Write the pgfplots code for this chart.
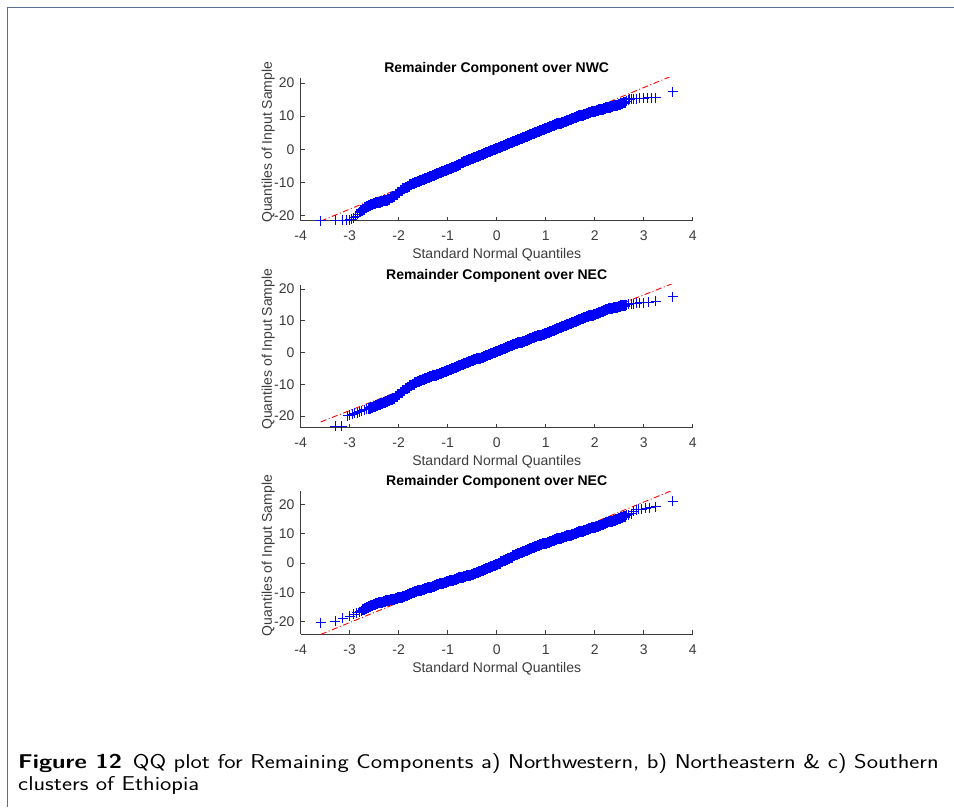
\documentclass[border=0pt]{standalone}
\usepackage{fontspec}
\setmainfont{Liberation Sans}
\usepackage{pgfplots}
\usepackage{pgfplotstable}
\pgfplotsset{compat=1.18}
\definecolor{axgray}{RGB}{60,60,60}
\definecolor{framecol}{RGB}{88,112,146}
\definecolor{qqblue}{RGB}{0,0,255}

\pgfplotstableread{
x y
-3.59 -21.5
-3.28 -21.4
-3.15 -21.4
-3.06 -21.3
-3.00 -21.2
-2.96 -21.0
-2.92 -20.6
-2.88 -20.1
-2.84 -19.6
-2.80 -19.0
-2.76 -18.5
-2.72 -18.0
-2.68 -17.6
-2.64 -17.2
-2.60 -16.9
-2.55 -16.6
-2.50 -16.3
-2.45 -16.1
-2.40 -15.9
-2.35 -15.7
-2.30 -15.5
-2.25 -15.3
-2.20 -15.0
-2.15 -14.6
-2.10 -14.1
-2.05 -13.5
-2.00 -12.9
-1.95 -12.4
-1.90 -11.9
-1.85 -11.5
-1.80 -11.1
-1.75 -10.7
-1.70 -10.4
-1.65 -10.0
-1.60 -9.7
-1.55 -9.4
-1.50 -9.0
-1.45 -8.7
-1.40 -8.4
-1.35 -8.1
-1.30 -7.8
-1.25 -7.5
-1.20 -7.2
-1.15 -6.9
-1.10 -6.6
-1.05 -6.3
-1.00 -6.0
-0.95 -5.7
-0.90 -5.4
-0.85 -5.1
-0.80 -4.8
-0.75 -4.5
-0.70 -4.1
-0.65 -3.8
-0.60 -3.5
-0.55 -3.2
-0.50 -2.9
-0.45 -2.6
-0.40 -2.3
-0.35 -2.0
-0.30 -1.7
-0.25 -1.4
-0.20 -1.1
-0.15 -0.8
-0.10 -0.5
-0.05 -0.2
0.00 0.2
0.05 0.5
0.10 0.8
0.15 1.1
0.20 1.4
0.25 1.7
0.30 2.0
0.35 2.3
0.40 2.6
0.45 2.9
0.50 3.2
0.55 3.5
0.60 3.8
0.65 4.1
0.70 4.4
0.75 4.7
0.80 5.0
0.85 5.3
0.90 5.6
0.95 5.9
1.00 6.2
1.05 6.5
1.10 6.8
1.15 7.1
1.20 7.4
1.25 7.7
1.30 7.9
1.35 8.2
1.40 8.5
1.45 8.8
1.50 9.0
1.55 9.3
1.60 9.6
1.65 9.8
1.70 10.1
1.75 10.3
1.80 10.6
1.85 10.8
1.90 11.1
1.95 11.3
2.00 11.5
2.05 11.7
2.10 11.9
2.15 12.1
2.20 12.3
2.25 12.5
2.30 12.7
2.35 12.9
2.40 13.1
2.45 13.3
2.50 13.5
2.55 13.7
2.60 14.1
2.64 14.5
2.68 14.9
2.72 15.1
2.76 15.2
2.80 15.3
2.86 15.3
2.92 15.4
3.00 15.4
3.08 15.5
3.16 15.5
3.25 15.6
3.59 17.4
}\dataA

\pgfplotstableread{
x y
-3.59 -24.0
-3.30 -23.3
-3.16 -23.2
-3.04 -19.9
-3.00 -19.7
-2.95 -19.4
-2.90 -19.1
-2.85 -18.9
-2.80 -18.6
-2.75 -18.4
-2.70 -18.1
-2.65 -17.8
-2.60 -17.5
-2.55 -17.2
-2.50 -16.9
-2.45 -16.6
-2.40 -16.3
-2.35 -16.0
-2.30 -15.7
-2.25 -15.4
-2.20 -15.1
-2.15 -14.8
-2.10 -14.4
-2.05 -13.9
-2.00 -13.3
-1.95 -12.6
-1.90 -12.0
-1.85 -11.4
-1.80 -10.9
-1.75 -10.4
-1.70 -10.0
-1.65 -9.6
-1.60 -9.2
-1.55 -8.9
-1.50 -8.6
-1.45 -8.3
-1.40 -8.0
-1.35 -7.7
-1.30 -7.4
-1.25 -7.1
-1.20 -6.8
-1.15 -6.5
-1.10 -6.2
-1.05 -5.9
-1.00 -5.6
-0.95 -5.3
-0.90 -5.0
-0.85 -4.7
-0.80 -4.4
-0.75 -4.1
-0.70 -3.8
-0.65 -3.5
-0.60 -3.2
-0.55 -2.9
-0.50 -2.6
-0.45 -2.3
-0.40 -2.0
-0.35 -1.8
-0.30 -1.5
-0.25 -1.2
-0.20 -0.9
-0.15 -0.6
-0.10 -0.3
-0.05 0.0
0.00 0.3
0.05 0.6
0.10 0.9
0.15 1.2
0.20 1.5
0.25 1.8
0.30 2.1
0.35 2.4
0.40 2.7
0.45 3.0
0.50 3.2
0.55 3.5
0.60 3.8
0.65 4.1
0.70 4.4
0.75 4.7
0.80 5.0
0.85 5.3
0.90 5.5
0.95 5.8
1.00 6.1
1.05 6.4
1.10 6.7
1.15 7.0
1.20 7.3
1.25 7.6
1.30 7.9
1.35 8.2
1.40 8.5
1.45 8.8
1.50 9.1
1.55 9.4
1.60 9.7
1.65 10.0
1.70 10.3
1.75 10.6
1.80 10.9
1.85 11.2
1.90 11.5
1.95 11.8
2.00 12.1
2.05 12.4
2.10 12.7
2.15 12.9
2.20 13.2
2.25 13.4
2.30 13.7
2.35 13.9
2.40 14.1
2.45 14.3
2.50 14.5
2.55 14.7
2.60 14.9
2.65 15.1
2.70 15.2
2.75 15.3
2.80 15.4
2.86 15.5
2.92 15.6
3.00 15.7
3.10 15.9
3.25 16.2
3.59 17.6
}\dataB

\pgfplotstableread{
x y
-3.59 -20.4
-3.30 -19.9
-3.14 -18.8
-3.00 -18.1
-2.92 -17.4
-2.86 -17.0
-2.80 -16.6
-2.76 -16.2
-2.72 -15.8
-2.68 -15.4
-2.64 -15.1
-2.60 -14.8
-2.55 -14.5
-2.50 -14.2
-2.45 -13.9
-2.40 -13.6
-2.35 -13.3
-2.30 -13.1
-2.25 -12.9
-2.20 -12.7
-2.15 -12.5
-2.10 -12.3
-2.05 -12.1
-2.00 -11.9
-1.95 -11.6
-1.90 -11.3
-1.85 -11.0
-1.80 -10.7
-1.75 -10.4
-1.70 -10.1
-1.65 -9.8
-1.60 -9.5
-1.55 -9.2
-1.50 -9.0
-1.45 -8.7
-1.40 -8.4
-1.35 -8.2
-1.30 -7.9
-1.25 -7.6
-1.20 -7.4
-1.15 -7.1
-1.10 -6.9
-1.05 -6.6
-1.00 -6.4
-0.95 -6.1
-0.90 -5.9
-0.85 -5.6
-0.80 -5.4
-0.75 -5.1
-0.70 -4.9
-0.65 -4.6
-0.60 -4.4
-0.55 -4.1
-0.50 -3.9
-0.45 -3.6
-0.40 -3.3
-0.35 -3.0
-0.30 -2.7
-0.25 -2.3
-0.20 -2.0
-0.15 -1.6
-0.10 -1.2
-0.05 -0.8
0.00 -0.4
0.05 0.0
0.10 0.4
0.15 0.8
0.20 1.2
0.25 1.6
0.30 2.0
0.35 2.4
0.40 2.8
0.45 3.2
0.50 3.6
0.55 3.9
0.60 4.2
0.65 4.5
0.70 4.9
0.75 5.2
0.80 5.6
0.85 5.9
0.90 6.2
0.95 6.5
1.00 6.8
1.05 7.1
1.10 7.3
1.15 7.6
1.20 7.9
1.25 8.2
1.30 8.4
1.35 8.7
1.40 9.0
1.45 9.3
1.50 9.5
1.55 9.8
1.60 10.1
1.65 10.3
1.70 10.6
1.75 10.9
1.80 11.2
1.85 11.4
1.90 11.7
1.95 12.0
2.00 12.2
2.05 12.5
2.10 12.8
2.15 13.1
2.20 13.4
2.25 13.7
2.30 14.0
2.35 14.3
2.40 14.6
2.45 14.9
2.50 15.2
2.55 15.5
2.60 15.8
2.65 16.2
2.70 16.5
2.75 16.8
2.80 17.6
2.85 18.2
2.90 18.3
2.96 18.4
3.04 18.6
3.12 18.9
3.25 19.2
3.59 21.0
}\dataC

\pgfplotsset{
  qq/.style={
    scale only axis, width=392pt, height=143pt,
    xmin=-4, xmax=4,
    axis x line*=bottom, axis y line*=left,
    axis line style={-, draw=axgray, line width=0.6pt},
    tick align=inside,
    major tick length=4pt,
    tick style={draw=axgray, line width=0.6pt},
    xtick={-4,-3,-2,-1,0,1,2,3,4},
    xticklabels={-4,-3,-2,-1,0,1,2,3,4},
    ytick={-20,-10,0,10,20},
    yticklabels={-20,-10,0,10,20},
    ticklabel style={font=\fontsize{14}{14}\selectfont, text=axgray},
    xticklabel style={anchor=base, yshift=-20pt},
    yticklabel style={anchor=east, xshift=-2.7pt},
    title style={font=\bfseries\fontsize{14}{14}\selectfont, at={(axis description cs:0.5,1)}, anchor=base, yshift=-0.6pt},
    xlabel style={font=\fontsize{14}{14}\selectfont, text=axgray, at={(axis description cs:0.5,0)}, anchor=base, yshift=-38pt},
    ylabel style={font=\fontsize{14}{14}\selectfont, text=axgray, at={(axis description cs:-0.0827,0.549)}, anchor=center},
    xlabel={Standard Normal Quantiles},
    ylabel={Quantiles of Input Sample},
    clip mode=individual,
  },
  qqmarks/.style={only marks, mark=+, mark size=5pt, color=qqblue, draw=qqblue, mark options={draw=qqblue, line width=1pt}},
  qqband/.style={only marks, mark=+, mark size=5.5pt, color=qqblue, draw=qqblue, mark options={draw=qqblue, line width=3pt}},
  qqline/.style={red, line width=0.9pt, dash pattern=on 6pt off 2.5pt on 1pt off 2.5pt},
}

\begin{document}
\begin{tikzpicture}
\path[use as bounding box] (0pt,0pt) rectangle (954pt,-807pt);
\fill[white] (0pt,0pt) rectangle (954pt,-807pt);
\draw[framecol, line width=1.8pt] (7.5pt,-807pt) -- (7.5pt,-7.5pt) -- (954pt,-7.5pt);

\begin{axis}[qq, at={(300.7pt,-220.7pt)}, anchor=south west,
  ymin=-21.5, ymax=21.57,
  title={Remainder Component over NWC}]
  \addplot[qqline] coordinates {(-3.59,-21.61) (3.59,22.19)};
  \addplot[qqband, restrict x to domain=-2.78:2.62] table {\dataA};
  \addplot[qqmarks] table {\dataA};
\end{axis}

\begin{axis}[qq, at={(300.7pt,-427.7pt)}, anchor=south west,
  ymin=-23.69, ymax=21.35,
  title={Remainder Component over NEC}]
  \addplot[qqline] coordinates {(-3.59,-21.86) (3.59,21.72)};
  \addplot[qqband, restrict x to domain=-2.6:2.62] table {\dataB};
  \addplot[qqmarks] table {\dataB};
\end{axis}

\begin{axis}[qq, at={(300.7pt,-634pt)}, anchor=south west,
  ymin=-24.19, ymax=24.53,
  title={Remainder Component over NEC}]
  \addplot[qqline] coordinates {(-3.59,-24.33) (3.59,24.79)};
  \addplot[qqband, restrict x to domain=-2.72:2.62] table {\dataC};
  \addplot[qqmarks] table {\dataC};
\end{axis}

\node[anchor=base west, inner sep=0pt, xscale=1.2, font=\sffamily\fontsize{20}{22}\selectfont] at (18pt,-768pt)
  {\textbf{Figure 12}\hspace{0.45em}QQ plot for Remaining Components a) Northwestern, b) Northeastern \& c) Southern};
\node[anchor=base west, inner sep=0pt, xscale=1.2, font=\sffamily\fontsize{20}{22}\selectfont] at (18pt,-790pt)
  {clusters of Ethiopia};
\end{tikzpicture}
\end{document}
